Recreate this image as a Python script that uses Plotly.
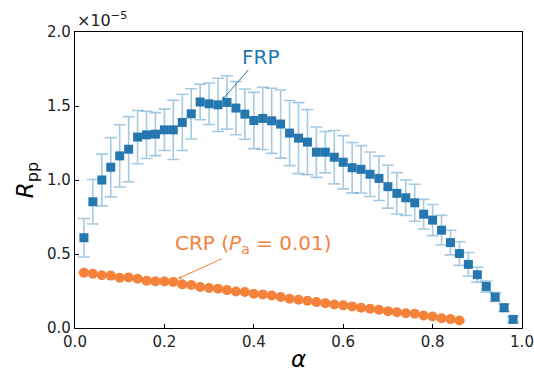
import plotly.graph_objects as go

alpha_frp = [round(0.02 * i, 2) for i in range(1, 50)]
frp = [0.61, 0.853, 1.0, 1.086, 1.163, 1.208, 1.29, 1.305, 1.31, 1.339,
       1.339, 1.389, 1.447, 1.527, 1.515, 1.508, 1.524, 1.486, 1.445, 1.402,
       1.416, 1.40, 1.378, 1.317, 1.283, 1.256, 1.188, 1.188, 1.154, 1.12,
       1.083, 1.072, 1.039, 1.011, 0.955, 0.91, 0.88, 0.846, 0.769, 0.729,
       0.661, 0.577, 0.503, 0.43, 0.36, 0.281, 0.209, 0.137, 0.058]
frp_err = [0.13, 0.15, 0.175, 0.2, 0.21, 0.22, 0.18, 0.16, 0.145, 0.14,
           0.2, 0.19, 0.17, 0.12, 0.14, 0.18, 0.18, 0.18, 0.17, 0.19,
           0.21, 0.22, 0.23, 0.22, 0.24, 0.22, 0.17, 0.14, 0.18, 0.18,
           0.17, 0.16, 0.15, 0.15, 0.145, 0.14, 0.12, 0.125, 0.10, 0.105,
           0.10, 0.083, 0.08, 0.08, 0.05, 0.037, 0.03, 0.025, 0.02]

alpha_crp = [round(0.02 * i, 2) for i in range(1, 44)]
crp = [0.374, 0.367, 0.356, 0.354, 0.34, 0.342, 0.333, 0.32, 0.315, 0.315,
       0.311, 0.295, 0.29, 0.277, 0.27, 0.266, 0.256, 0.247, 0.243, 0.232,
       0.227, 0.22, 0.209, 0.198, 0.191, 0.184, 0.175, 0.168, 0.159, 0.153,
       0.146, 0.137, 0.13, 0.123, 0.114, 0.107, 0.10, 0.096, 0.085, 0.078,
       0.066, 0.06, 0.051]
crp_err = [0.006] * len(crp)

x_ticks = [0.0, 0.2, 0.4, 0.6, 0.8, 1.0]
y_ticks = [0.0, 0.5, 1.0, 1.5, 2.0]

BLUE = "#2676b0"
ORANGE = "#f5823a"
FONT = "DejaVu Sans"

fig = go.Figure()
fig.add_trace(go.Scatter(
    x=alpha_frp, y=frp, mode="markers",
    marker=dict(symbol="square", size=9, color=BLUE),
    error_y=dict(type="data", array=frp_err, visible=True,
                 color="rgba(31,119,180,0.4)", thickness=1.6, width=6),
    showlegend=False))
fig.add_trace(go.Scatter(
    x=alpha_crp, y=crp, mode="markers",
    marker=dict(symbol="circle", size=10, color=ORANGE),
    error_y=dict(type="data", array=crp_err, visible=True,
                 color="rgba(245,130,58,0.4)", thickness=1.6, width=6),
    showlegend=False))

fig.add_annotation(x=0.329, y=1.54, ax=0.414, ay=1.834, axref="x", ayref="y",
                   xref="x", yref="y", text="FRP", showarrow=True,
                   arrowhead=2, arrowsize=0.7, arrowwidth=1, arrowcolor=BLUE,
                   font=dict(family=FONT, size=20, color=BLUE))
fig.add_annotation(x=0.23, y=0.333, ax=0.40, ay=0.566, axref="x", ayref="y",
                   xref="x", yref="y",
                   text="CRP (<i>P</i><sub>a</sub> = 0.01)", showarrow=True,
                   arrowhead=2, arrowsize=0.7, arrowwidth=1, arrowcolor=ORANGE,
                   font=dict(family=FONT, size=20, color=ORANGE))
fig.add_annotation(x=0, y=1, xref="paper", yref="paper", xanchor="left",
                   yanchor="bottom", text="×10<sup>−5</sup>", showarrow=False,
                   font=dict(family=FONT, size=16, color="#222"), yshift=0)

axis_common = dict(showline=True, linecolor="black", linewidth=1.2, mirror=True,
                   ticks="inside", ticklen=4, tickwidth=1, tickcolor="black",
                   showgrid=False, zeroline=False, automargin=False,
                   tickfont=dict(family=FONT, size=15, color="#222"))
fig.update_xaxes(range=[0, 1], tickvals=x_ticks,
                 ticktext=[f"{v:.1f}" for v in x_ticks],
                 title=dict(text="<i>α</i>", font=dict(family=FONT, size=23, color="black"),
                            standoff=0),
                 **axis_common)
fig.update_yaxes(range=[0, 2], tickvals=y_ticks,
                 ticktext=[f"{v:.1f}" for v in y_ticks],
                 title=dict(text="<i>R</i><sub>pp</sub>", font=dict(family=FONT, size=23, color="black"),
                            standoff=6),
                 **axis_common)
fig.update_layout(width=534, height=372, margin=dict(l=75, r=12, t=32, b=44),
                  plot_bgcolor="white", paper_bgcolor="white",
                  font=dict(family=FONT))
fig.write_html("out.html")
